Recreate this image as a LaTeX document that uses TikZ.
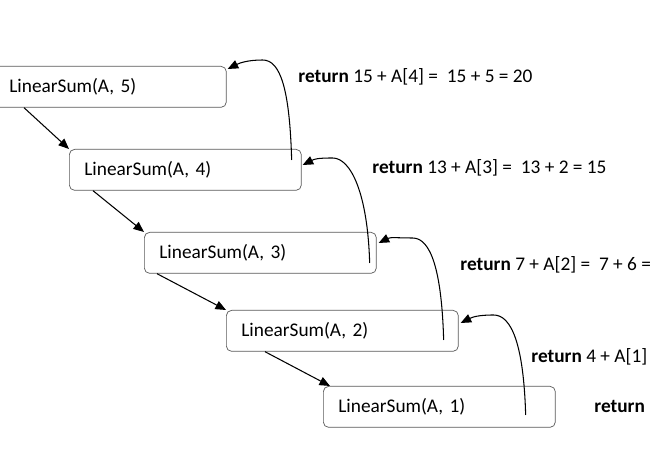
\documentclass[tikz,border=0pt]{standalone}
\usepackage{fontspec}
\setmainfont{Carlito}
\usetikzlibrary{calc, arrows.meta, positioning}

\tikzset{
  call/.style={draw=black!65, rounded corners=3pt, minimum height=0.82cm, text width=4.04cm,
    inner xsep=0.3cm, inner ysep=0pt, align=left, anchor=north west, font=\fontsize{11}{13}\selectfont},
  ret/.style={anchor=west, inner sep=0pt, font=\fontsize{11}{13}\selectfont},
  link/.style={-{Triangle[length=6pt,width=5pt]}, line width=0.6pt},
}

\begin{document}
\begin{tikzpicture}[x=0.02cm, y=-0.02cm]
    \useasboundingbox (0,0) rectangle (650,455);

    % the calls, one below the other
    \node[call] (B5) at (-6,66) {LinearSum(A, 5)};
    \node[call] (B4) at (69,149) {LinearSum(A, 4)};
    \node[call] (B3) at (144,232) {LinearSum(A, 3)};
    \node[call] (B2) at (226,310) {LinearSum(A, 2)};
    \node[call] (B1) at (323,386) {LinearSum(A, 1)};

    \draw[link] ($(B5.south west)+(30,0)$) -- (B4.north west);
    \draw[link] ($(B4.south west)+(24,0)$) -- (B3.north west);
    \draw[link] ($(B3.south west)+(13,0)$) -- (B2.north west);
    \draw[link] ($(B2.south west)+(39,0)$) -- ($(B1.north west)+(7,0)$);

    % the returns
    \coordinate (R4) at ($(B4.north east)+(-10,11)$);
    \coordinate (R3) at ($(B3.north east)+(-7,31)$);
    \coordinate (R2) at ($(B2.north east)+(-15,30)$);
    \coordinate (R1) at ($(B1.north east)+(-30,29)$);
    \coordinate (P4) at ($(R4)+(-29,-100)$);
    \coordinate (P3) at ($(R3)+(-37,-105)$);
    \coordinate (P2) at ($(R2)+(-31,-102)$);
    \coordinate (P1) at ($(R1)+(-32,-100)$);

    \draw[link] (R4) .. controls +(-2,-70) and +(18,0) .. (P4)
        .. controls +(-15,0) and +(12,-6) .. ($(B5.north east)+(1,3)$);
    \draw[link] (R3) .. controls +(-2,-70) and +(18,0) .. (P3)
        .. controls +(-15,0) and +(12,-6) .. ($(B4.north east)+(1,16)$);
    \draw[link] (R2) .. controls +(-2,-70) and +(18,0) .. (P2)
        .. controls +(-15,0) and +(12,-6) .. ($(B3.north east)+(2,11)$);
    \draw[link] (R1) .. controls +(-2,-70) and +(18,0) .. (P1)
        .. controls +(-15,0) and +(12,-6) .. ($(B2.north east)+(2,13)$);

    \node[ret] (L4) at (298,77) {\textbf{return} 15 + A[4] = \ 15 + 5 = 20};
    \node[ret] (L3) at (372,168) {\textbf{return} 13 + A[3] = \ 13 + 2 = 15};
    \node[ret] (L2) at (460,265) {\textbf{return} 7 + A[2] = \ 7 + 6 =};
    \node[ret] (L1) at (531,357) {\textbf{return} 4 + A[1]};
    \node[ret] (L0) at (594,406) {\textbf{return}};
\end{tikzpicture}
\end{document}
